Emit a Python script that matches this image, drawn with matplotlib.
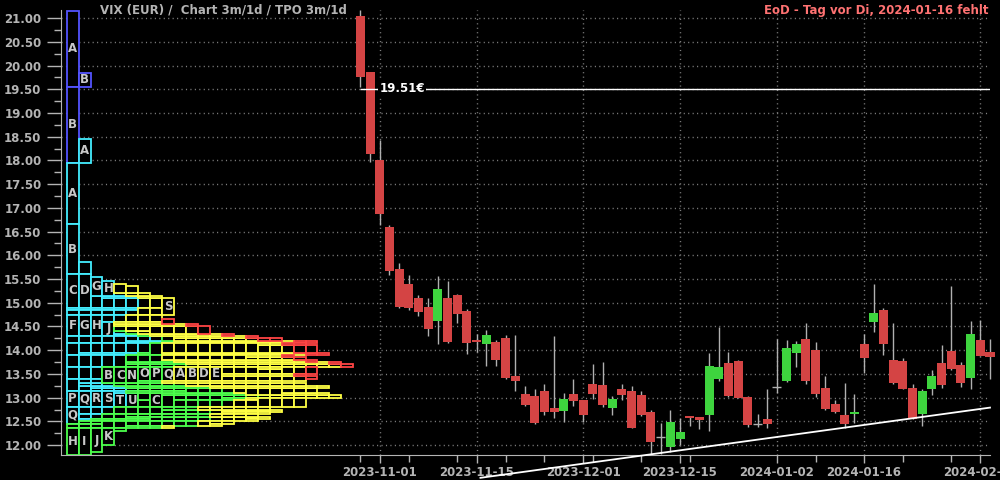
import matplotlib
matplotlib.use("Agg")
import matplotlib.pyplot as plt
from matplotlib.patches import Rectangle
from matplotlib.ticker import MultipleLocator, FormatStrFormatter
import numpy as np
import pandas as pd

# trading days Oct 30 2023 .. Feb 2 2024 (US holidays left out)
start_day = "2023-10-30"
end_day = "2024-02-02"
holidays = ["2023-11-23", "2023-12-25", "2024-01-01", "2024-01-15"]

opens = [21.04, 19.86, 18.02, 16.60, 15.71, 15.39, 15.10, 14.91, 14.62, 15.10,
         15.16, 14.83, 14.22, 14.13, 14.17, 14.26, 13.46, 13.08, 13.03, 13.14,
         12.78, 12.72, 13.08, 12.95, 13.29, 13.27, 12.78, 13.18, 13.14, 13.05,
         12.70, 12.18, 11.96, 12.13, 12.61, 12.59, 12.63, 13.39, 13.73, 13.77,
         13.01, 12.44, 12.55, 13.22, 13.35, 13.94, 14.23, 14.00, 13.20, 12.87,
         12.63, 12.66, 14.13, 14.59, 14.85, 13.79, 13.77, 13.20, 12.65, 13.18,
         13.73, 13.98, 13.69, 13.41, 14.21, 13.96]
highs = [21.17, 19.86, 18.43, 16.63, 15.84, 15.58, 15.16, 15.09, 15.56, 15.46,
         15.18, 14.87, 14.34, 14.42, 14.21, 14.32, 14.32, 13.24, 13.18, 13.29,
         14.30, 13.10, 13.39, 12.95, 13.71, 13.75, 13.03, 13.29, 13.24, 13.14,
         12.74, 12.47, 12.74, 12.57, 12.61, 12.59, 13.94, 14.49, 13.96, 13.79,
         13.03, 12.65, 13.18, 14.24, 14.21, 14.19, 14.57, 14.17, 13.46, 12.95,
         13.31, 13.08, 14.34, 15.39, 14.89, 14.57, 13.83, 13.29, 13.18, 13.58,
         14.11, 15.35, 13.75, 14.61, 14.64, 14.23]
lows = [19.55, 17.97, 16.64, 15.58, 14.90, 14.85, 14.73, 14.30, 14.13, 14.16,
        14.58, 13.92, 13.97, 13.67, 13.67, 13.39, 13.14, 12.82, 12.44, 12.63,
        12.57, 12.49, 12.82, 12.49, 12.97, 12.80, 12.63, 12.95, 12.36, 12.61,
        11.81, 11.82, 11.86, 12.00, 12.40, 12.34, 12.30, 13.35, 13.01, 12.99,
        12.38, 12.38, 12.36, 13.10, 13.33, 13.64, 13.29, 13.01, 12.74, 12.68,
        12.36, 12.47, 13.52, 14.38, 13.90, 13.29, 13.18, 12.55, 12.40, 13.05,
        13.20, 13.58, 13.22, 13.18, 13.88, 13.39]
closes = [19.75, 18.13, 16.88, 15.67, 14.92, 14.89, 14.81, 14.45, 15.29, 14.18,
          14.77, 14.16, 14.18, 14.32, 13.79, 13.41, 13.36, 12.84, 12.47, 12.70,
          12.70, 12.97, 12.93, 12.63, 13.08, 12.84, 12.97, 13.05, 12.36, 12.63,
          12.06, 12.18, 12.49, 12.27, 12.57, 12.53, 13.67, 13.64, 13.03, 12.99,
          12.42, 12.44, 12.44, 13.22, 14.05, 14.13, 13.35, 13.08, 12.76, 12.70,
          12.44, 12.70, 13.83, 14.78, 14.13, 13.31, 13.18, 12.55, 13.14, 13.46,
          13.27, 13.60, 13.31, 14.34, 13.88, 13.86]

major_dates = ["2023-11-01", "2023-11-15", "2023-12-01", "2023-12-15",
               "2024-01-02", "2024-01-16", "2024-02-01"]

last_price = 19.51
trend_x = [12.4, 65.0]
trend_y = [11.31, 12.79]

title_left = "VIX (EUR) /  Chart 3m/1d / TPO 3m/1d"
title_right = "EoD - Tag vor Di, 2024-01-16 fehlt"

# TPO colors per month (Oct, Nov, Dec, Jan, Feb)
month_colors = ["#5454ff", "#44eeff", "#4cff4c", "#ffff44", "#ff4444"]
tpo_tick = 0.05

days = pd.bdate_range(start_day, end_day)
days = days[~days.isin(pd.to_datetime(holidays))]
n = len(days)
xs = np.arange(n)

fig = plt.figure(figsize=(10, 4.8), dpi=100, facecolor="black")
ax = fig.add_axes([0.061, 0.052, 0.929, 0.927])
ax.set_facecolor("black")

gray = "#b4b4b4"

# ---- TPO profile on the left ----
tpo_x0 = -30.32
tpo_w = 1.233
months = days.to_period("M")
month_list = list(dict.fromkeys(months))
used = {}
for i in range(n):
    m = month_list.index(months[i])
    letter = chr(65 + sum(months[:i] == months[i]))
    color = month_colors[m]
    b0 = int(round(lows[i] / tpo_tick))
    b1 = max(int(round(highs[i] / tpo_tick)), b0 + 1)
    cells = {}
    for b in range(b0, b1):
        col = used.get(b, 0)
        used[b] = col + 1
        cells.setdefault(col, []).append(b)
    for col, bins in cells.items():
        runs = [[bins[0], bins[0] + 1]]
        for b in bins[1:]:
            if b == runs[-1][1]:
                runs[-1][1] = b + 1
            else:
                runs.append([b, b + 1])
        for r0, r1 in runs:
            y0 = r0 * tpo_tick
            h = (r1 - r0) * tpo_tick
            xl = tpo_x0 + col * tpo_w
            ax.add_patch(Rectangle((xl, y0), tpo_w, h, facecolor="black",
                                   edgecolor=color, lw=1.3, zorder=2))
            if h >= 0.26:
                ax.text(xl + tpo_w / 2, y0 + h / 2, letter, color="#c8c8c8",
                        fontsize=8.5, fontweight="bold", ha="center",
                        va="center", zorder=3)

# ---- candles ----
for i in range(n):
    o, h, l, c = opens[i], highs[i], lows[i], closes[i]
    ax.vlines(xs[i], l, h, color="#b0b0b0", lw=1, zorder=3, clip_on=False)
    if o == c:
        ax.hlines(o, xs[i] - 0.46, xs[i] + 0.46, color="#b0b0b0", lw=1,
                  zorder=4, clip_on=False)
        continue
    col = "#3ed43e" if c > o else "#d44444"
    bot = min(o, c)
    ht = max(abs(c - o), 0.03)
    ax.add_patch(Rectangle((xs[i] - 0.465, bot), 0.93, ht, facecolor=col,
                           edgecolor="none", zorder=4, clip_on=False))

# last price line and support line
ax.hlines(last_price, 0, n - 1, color="white", lw=1, zorder=5)
ax.text(1.95, last_price, "%.2f€" % last_price, color="white", fontsize=8.5,
        fontweight="bold", ha="left", va="center", zorder=6,
        bbox=dict(facecolor="black", edgecolor="none", pad=1))
ax.plot(trend_x, trend_y, color="white", lw=1.3, zorder=5, clip_on=False)

# ---- axes ----
ax.set_xlim(-30.9, 65.0)
ax.set_ylim(11.79, 21.17)

day_str = [d.strftime("%Y-%m-%d") for d in days]
major_idx = [day_str.index(d) for d in major_dates]
ax.set_xticks(major_idx)
ax.set_xticklabels(major_dates)
mondays = [i for i in range(n) if days[i].weekday() == 0 and i not in major_idx]
ax.set_xticks(mondays, minor=True)

ax.yaxis.set_major_locator(MultipleLocator(0.5))
ax.yaxis.set_minor_locator(MultipleLocator(0.25))
ax.yaxis.set_major_formatter(FormatStrFormatter("%.2f"))

ax.tick_params(axis="both", which="major", colors=gray, labelsize=8.5,
               length=6, width=1)
ax.tick_params(axis="x", which="major", pad=2)
ax.tick_params(axis="y", which="major", length=10, pad=4)
ax.tick_params(axis="both", which="minor", colors=gray, length=5, width=1)
for lab in ax.get_xticklabels() + ax.get_yticklabels():
    lab.set_fontweight("bold")

for s in ["top", "right"]:
    ax.spines[s].set_visible(False)
for s in ["left", "bottom"]:
    ax.spines[s].set_color(gray)

ax.grid(True, which="major", color="#808080", linestyle=(0, (0.8, 2.4)),
        lw=1, zorder=0)
ax.set_axisbelow(True)

fig.text(0.100, 0.979, title_left, color=gray, fontsize=8.5, fontweight="bold",
         ha="left", va="center")
fig.text(0.989, 0.979, title_right, color="#ff7272", fontsize=8.5,
         fontweight="bold", ha="right", va="center")

fig.savefig("out.png", dpi=100, facecolor="black")
